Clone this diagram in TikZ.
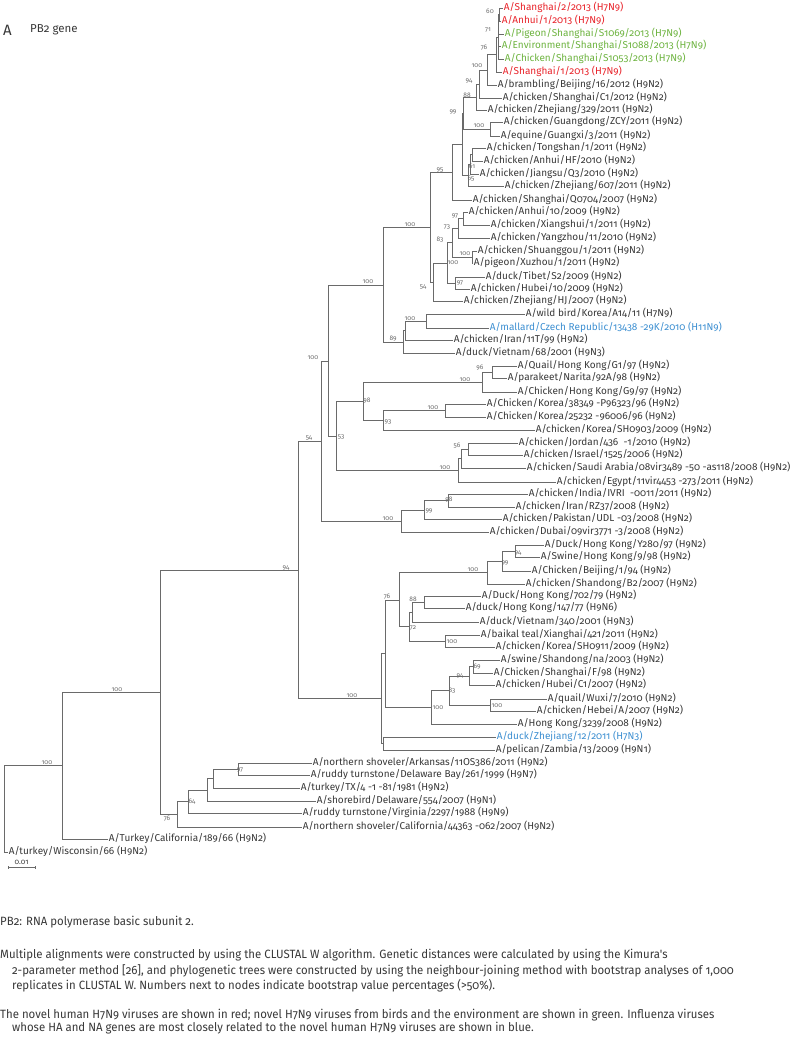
\documentclass[tikz,border=0pt]{standalone}
\usepackage{fontspec}
\setmainfont[Numbers=OldStyle]{Fira Sans}
\newfontfamily\capfont[Numbers=OldStyle,FakeStretch=0.95]{Fira Sans}
\definecolor{txt}{HTML}{383838}
\definecolor{ln}{HTML}{6A6A6A}
\definecolor{bs}{HTML}{6A6A6A}
\definecolor{hred}{HTML}{E8232A}
\definecolor{hgreen}{HTML}{6DB33F}
\definecolor{hblue}{HTML}{3D8FD1}
\tikzset{
  leaf/.style={anchor=west, inner sep=0.6pt, font=\fontsize{10}{11}\selectfont, text=txt, text height=6.6pt, text depth=2.2pt},
  bsl/.style={font=\fontsize{6.6}{7.5}\selectfont, text=bs, inner sep=0},
  br/.style={draw=ln, line width=0.95pt},
  inode/.style={inner sep=0, minimum size=0, outer sep=0},
  capline/.style={anchor=west, inner sep=0, font=\capfont\fontsize{12}{14}\selectfont, text=txt}
}
\begin{document}
\begin{tikzpicture}[x=1pt,y=-1pt]
\useasboundingbox (0,0) rectangle (800,1038);
% title
\node[anchor=west, inner sep=0, font=\fontsize{15}{17}\selectfont, text=txt] (ttlA) at (3,30) {A};
\node[anchor=west, inner sep=0, font=\fontsize{11.5}{13}\selectfont, text=txt] (ttl) at (30,30) {PB2 gene};
% leaves
\node[leaf, text=hred] (L1) at (503,8) {A/Shanghai/2/2013 (H7N9)};
\node[leaf, text=hred] (L2) at (501,21) {A/Anhui/1/2013 (H7N9)};
\node[leaf, text=hgreen] (L3) at (504,34) {A/Pigeon/Shanghai/S1069/2013 (H7N9)};
\node[leaf, text=hgreen] (L4) at (501,46) {A/Environment/Shanghai/S1088/2013 (H7N9)};
\node[leaf, text=hgreen] (L5) at (504,59) {A/Chicken/Shanghai/S1053/2013 (H7N9)};
\node[leaf, text=hred] (L6) at (502,72) {A/Shanghai/1/2013 (H7N9)};
\node[leaf] (L7) at (497,85) {A/brambling/Beijing/16/2012 (H9N2)};
\node[leaf] (L8) at (502,98) {A/chicken/Shanghai/C1/2012 (H9N2)};
\node[leaf] (L9) at (487,110) {A/chicken/Zhejiang/329/2011 (H9N2)};
\node[leaf] (L10) at (503,122) {A/chicken/Guangdong/ZCY/2011 (H9N2)};
\node[leaf] (L11) at (500,136) {A/equine/Guangxi/3/2011 (H9N2)};
\node[leaf] (L12) at (486,148) {A/chicken/Tongshan/1/2011 (H9N2)};
\node[leaf] (L13) at (483,161) {A/chicken/Anhui/HF/2010 (H9N2)};
\node[leaf] (L14) at (479,174) {A/chicken/Jiangsu/Q3/2010 (H9N2)};
\node[leaf] (L15) at (504,186) {A/chicken/Zhejiang/607/2011 (H9N2)};
\node[leaf] (L16) at (472,200) {A/chicken/Shanghai/Q0704/2007 (H9N2)};
\node[leaf] (L17) at (468,212) {A/chicken/Anhui/10/2009 (H9N2)};
\node[leaf] (L18) at (490,225) {A/chicken/Xiangshui/1/2011 (H9N2)};
\node[leaf] (L19) at (490,238) {A/chicken/Yangzhou/11/2010 (H9N2)};
\node[leaf] (L20) at (477,251) {A/chicken/Shuanggou/1/2011 (H9N2)};
\node[leaf] (L21) at (473,263) {A/pigeon/Xuzhou/1/2011 (H9N2)};
\node[leaf] (L22) at (485,277) {A/duck/Tibet/S2/2009 (H9N2)};
\node[leaf] (L23) at (470,289) {A/chicken/Hubei/10/2009 (H9N2)};
\node[leaf] (L24) at (463,301) {A/chicken/Zhejiang/HJ/2007 (H9N2)};
\node[leaf] (L25) at (525,314) {A/wild bird/Korea/A14/11 (H7N9)};
\node[leaf, text=hblue] (L26) at (489,328) {A/mallard/Czech Republic/13438 -29K/2010 (H11N9)};
\node[leaf] (L27) at (453,340) {A/chicken/Iran/11T/99 (H9N2)};
\node[leaf] (L28) at (455,353) {A/duck/Vietnam/68/2001 (H9N3)};
\node[leaf] (L29) at (517,366) {A/Quail/Hong Kong/G1/97 (H9N2)};
\node[leaf] (L30) at (507,378) {A/parakeet/Narita/92A/98 (H9N2)};
\node[leaf] (L31) at (517,392) {A/Chicken/Hong Kong/G9/97 (H9N2)};
\node[leaf] (L32) at (486,404) {A/Chicken/Korea/38349 -P96323/96 (H9N2)};
\node[leaf] (L33) at (486,417) {A/Chicken/Korea/25232 -96006/96 (H9N2)};
\node[leaf] (L34) at (535,430) {A/chicken/Korea/SH0903/2009 (H9N2)};
\node[leaf] (L35) at (518,443) {A/chicken/Jordan/436 \ -1/2010 (H9N2)};
\node[leaf] (L36) at (523,455) {A/chicken/Israel/1525/2006 (H9N2)};
\node[leaf] (L37) at (526,468) {A/chicken/Saudi Arabia/08vir3489 -50 -as118/2008 (H9N2)};
\node[leaf] (L38) at (556,482) {A/chicken/Egypt/11vir4453 -273/2011 (H9N2)};
\node[leaf] (L39) at (528,494) {A/chicken/India/IVRI \ -0011/2011 (H9N2)};
\node[leaf] (L40) at (515,507) {A/chicken/Iran/RZ37/2008 (H9N2)};
\node[leaf] (L41) at (502,519) {A/chicken/Pakistan/UDL -03/2008 (H9N2)};
\node[leaf] (L42) at (489,532) {A/chicken/Dubai/09vir3771 -3/2008 (H9N2)};
\node[leaf] (L43) at (544,545) {A/Duck/Hong Kong/Y280/97 (H9N2)};
\node[leaf] (L44) at (540,557) {A/Swine/Hong Kong/9/98 (H9N2)};
\node[leaf] (L45) at (531,571) {A/Chicken/Beijing/1/94 (H9N2)};
\node[leaf] (L46) at (525,584) {A/chicken/Shandong/B2/2007 (H9N2)};
\node[leaf] (L47) at (481,596) {A/Duck/Hong Kong/702/79 (H9N2)};
\node[leaf] (L48) at (465,608) {A/duck/Hong Kong/147/77 (H9N6)};
\node[leaf] (L49) at (479,622) {A/duck/Vietnam/340/2001 (H9N3)};
\node[leaf] (L50) at (480,635) {A/baikal teal/Xianghai/421/2011 (H9N2)};
\node[leaf] (L51) at (495,647) {A/chicken/Korea/SH0911/2009 (H9N2)};
\node[leaf] (L52) at (500,660) {A/swine/Shandong/na/2003 (H9N2)};
\node[leaf] (L53) at (493,673) {A/Chicken/Shanghai/F/98 (H9N2)};
\node[leaf] (L54) at (495,685) {A/chicken/Hubei/C1/2007 (H9N2)};
\node[leaf] (L55) at (547,699) {A/quail/Wuxi/7/2010 (H9N2)};
\node[leaf] (L56) at (536,711) {A/chicken/Hebei/A/2007 (H9N2)};
\node[leaf] (L57) at (517,724) {A/Hong Kong/3239/2008 (H9N2)};
\node[leaf, text=hblue] (L58) at (496,737) {A/duck/Zhejiang/12/2011 (H7N3)};
\node[leaf] (L59) at (495,750) {A/pelican/Zambia/13/2009 (H9N1)};
\node[leaf] (L60) at (312,763) {A/northern shoveler/Arkansas/11OS386/2011 (H9N2)};
\node[leaf] (L61) at (310,775) {A/ruddy turnstone/Delaware Bay/261/1999 (H9N7)};
\node[leaf] (L62) at (300,788) {A/turkey/TX/4 -1 -81/1981 (H9N2)};
\node[leaf] (L63) at (316,801) {A/shorebird/Delaware/554/2007 (H9N1)};
\node[leaf] (L64) at (302,813) {A/ruddy turnstone/Virginia/2297/1988 (H9N9)};
\node[leaf] (L65) at (302,827) {A/northern shoveler/California/44363 -062/2007 (H9N2)};
\node[leaf] (L66) at (108,839) {A/Turkey/California/189/66 (H9N2)};
\node[leaf] (L67) at (8,852) {A/turkey/Wisconsin/66 (H9N2)};
% internal nodes
\foreach \n/\x/\y in {n60/499/14.5, n71/498/37, n76/496/54.5, n100a/487/70, n94a/479/84, n88a/476/97,
  n100b/490/129, n99a/463/113, nA/472/154.5, nB/470/164, nC/468/175, nD/462/144, n95/452/172,
  n97a/463/218.5, n73/458/228, n100d/472/257, n83a/452/242.5, n97b/455/283, n100e/447/263,
  n54a/433/282, n100c/430/227, n100g/426/321, nM/405/330.5, n89/403/342, n100f/383/285,
  n96/492/372, n100j/482/382, n100k/445/410.5, n93/383/420, n98a/363/401, n56/468/449,
  nM2/461/458.5, n100i/458/470, n53/336/436, n100h/328/361, n98b/448/500.5, n99b/424/510,
  n100l/401/521, n54b/321/441.5, n94c/515/551, n99c/502/561, n100n/487/572.5, n88b/424/602,
  n72/412/612, n100o/445/641, nM3/409/626.5, n76b/399/600, n69/473/666.5, n94d/469/676,
  n100q/490/705, n83b/449/690.5, n100r/431/707, n100m/385/653.5, nV/383/743.5, nU/381/698.5,
  n94/298/570, n97c/238/769, nE/213/778.5, nF/207/790, n64/188/801.5, n76c/177/814,
  nR/160/692, nA0/62/765.5, root/4/808.75}
  {\node[inode] (\n) at (\x,\y) {};}
% branches
\foreach \p/\c in {n60/L1, n60/L2, n71/n60, n71/L3, n71/L4, n71/L5, n76/n71, n76/L6,
  n100a/n76, n100a/L7, n94a/n100a, n94a/L8, n88a/n94a, n88a/L9, n100b/L10, n100b/L11,
  n99a/n88a, n99a/n100b, nA/L12, nA/L13, nB/nA, nB/L14, nC/nB, nC/L15, nD/n99a, nD/nC,
  n95/nD, n95/L16, n97a/L17, n97a/L18, n73/n97a, n73/L19, n100d/L20, n100d/L21,
  n83a/n73, n83a/n100d, n97b/L22, n97b/L23, n100e/n83a, n100e/n97b, n54a/n100e, n54a/L24,
  n100c/n95, n100c/n54a, n100g/L25, n100g/L26, nM/n100g, nM/L27, n89/nM, n89/L28,
  n100f/n100c, n100f/n89, n96/L29, n96/L30, n100j/n96, n100j/L31, n100k/L32, n100k/L33,
  n93/n100k, n93/L34, n98a/n100j, n98a/n93, n56/L35, n56/L36, nM2/n56, nM2/L37,
  n100i/nM2, n100i/L38, n53/n98a, n53/n100i, n100h/n100f, n100h/n53, n98b/L39, n98b/L40,
  n99b/n98b, n99b/L41, n100l/n99b, n100l/L42, n54b/n100h, n54b/n100l, n94c/L43, n94c/L44,
  n99c/n94c, n99c/L45, n100n/n99c, n100n/L46, n88b/L47, n88b/L48, n72/n88b, n72/L49,
  n100o/L50, n100o/L51, nM3/n72, nM3/n100o, n76b/n100n, n76b/nM3, n69/L52, n69/L53,
  n94d/n69, n94d/L54, n100q/L55, n100q/L56, n83b/n94d, n83b/n100q, n100r/n83b, n100r/L57,
  n100m/n76b, n100m/n100r, nV/L58, nV/L59, nU/n100m, nU/nV, n94/n54b, n94/nU,
  n97c/L60, n97c/L61, nE/n97c, nE/L62, nF/nE, nF/L63, n64/nF, n64/L64, n76c/n64, n76c/L65,
  nR/n94, nR/n76c, nA0/nR, nA0/L66, root/nA0, root/L67}
  {\draw[br] (\p.center) |- (\c.west);}
% bootstrap values
\foreach \t/\x/\y [count=\i] in {60/490/11, 71/488/30, 76/484/48, 100/477/66, 94/469/81, 88/467/95,
  99/453/112, 100/479/126, 61/472/166, 65/471/179, 95/440/170, 100/410/225, 97/455/216,
  73/447/227, 83/440/240, 100/465/253.5, 100/453/263, 97/460/283, 54/423/287, 100/410/319,
  89/393/339, 100/368/282, 100/313/358, 96/480/368, 100/465/380, 98/367/401, 100/433/408,
  93/388/422, 53/341/437, 56/457/446, 100/445/468, 54/309/438, 98/449/500, 99/429/511,
  100/388/519, 94/286/568, 94/518/553, 99/505/563, 100/473/570, 88/413/599, 76/387/597,
  72/413/628, 100/452/642, 69/477/667, 94/460/676, 83/452/691, 100/497/706, 100/438/708,
  100/352/696, 97/240/770, 64/192/802, 76/167/819, 100/117/690, 100/47/763}
  {\node[bsl] (bs\i) at (\x,\y) {\t};}
% scale bar
\node[inode] (sb1) at (8,867) {};
\node[inode] (sb2) at (35,867) {};
\draw[br, line width=0.7pt] (sb1.center) -- (sb2.center);
\draw[br, line width=0.7pt] ([yshift=-1.5pt]sb1.center) -- ([yshift=1.5pt]sb1.center);
\draw[br, line width=0.7pt] ([yshift=-1.5pt]sb2.center) -- ([yshift=1.5pt]sb2.center);
\node[bsl, font=\fontsize{7.5}{8}\selectfont, text=txt] (sbl) at (21.5,862) {0.01};
% caption
\node[capline] (c1) at (0,922) {PB2: RNA polymerase basic subunit 2.};
\node[capline] (c2) at (0,955) {Multiple alignments were constructed by using the CLUSTAL W algorithm. Genetic distances were calculated by using the Kimura's};
\node[capline] (c3) at (12,971) {2-parameter method [26], and phylogenetic trees were constructed by using the neighbour-joining method with bootstrap analyses of 1,000};
\node[capline] (c4) at (12,986) {replicates in CLUSTAL W. Numbers next to nodes indicate bootstrap value percentages (>50\%).};
\node[capline] (c5) at (0,1015) {The novel human H7N9 viruses are shown in red; novel H7N9 viruses from birds and the environment are shown in green. Influenza viruses};
\node[capline] (c6) at (12,1028) {whose HA and NA genes are most closely related to the novel human H7N9 viruses are shown in blue.};
\end{tikzpicture}
\end{document}
